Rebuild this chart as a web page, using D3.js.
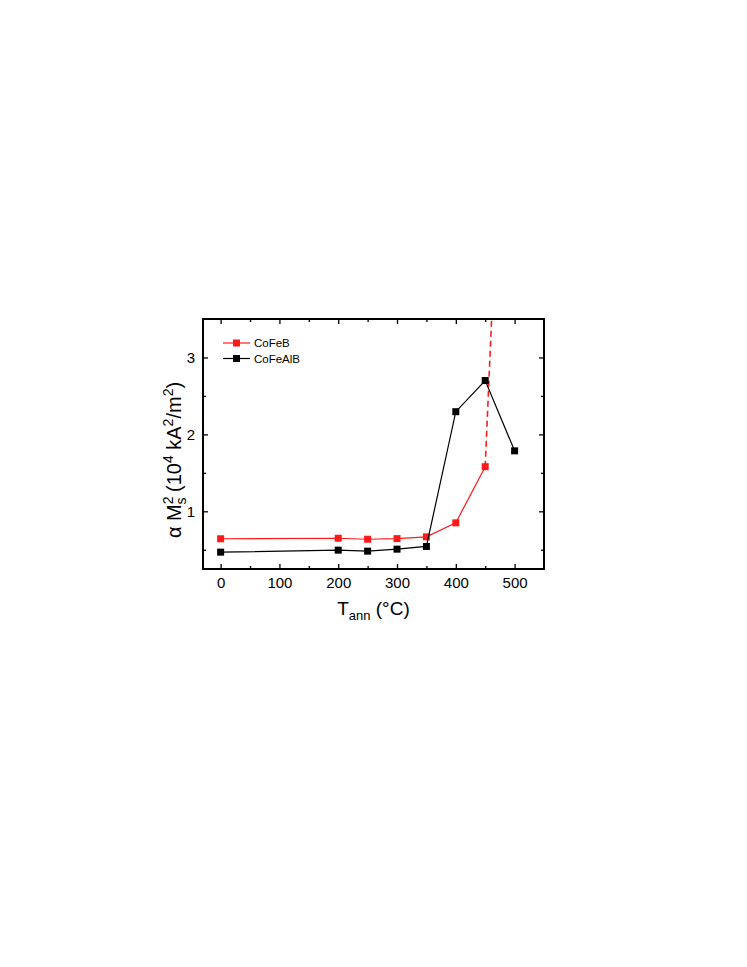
<!DOCTYPE html>
<html>
<head>
<meta charset="utf-8">
<script src="https://cdn.jsdelivr.net/npm/d3@7"></script>
<style>
  body { margin: 0; background: #fff; }
  svg { display: block; font-family: Arial, "Liberation Sans", sans-serif; }
  .axis path { display: none; }
  .axis line { stroke: #000; stroke-width: 1.3; }
  .axis text { font-size: 15px; fill: #000; }
</style>
</head>
<body>
<div id="chart"></div>
<script>
// data
var seriesNames = ["CoFeB", "CoFeAlB"];
var tempCoFeB = [0, 200, 250, 300, 350, 400, 450];
var valCoFeB = [0.643, 0.65, 0.637, 0.645, 0.668, 0.85, 1.58];
// dashed continuation of CoFeB past 450 °C (leaves the frame)
var tempCoFeBTail = [450, 462];
var valCoFeBTail = [1.58, 3.7];
var tempCoFeAlB = [0, 200, 250, 300, 350, 400, 450, 500];
var valCoFeAlB = [0.469, 0.495, 0.482, 0.508, 0.543, 2.295, 2.70, 1.786];
var xTicks = [0, 100, 200, 300, 400, 500];
var xMinor = [50, 150, 250, 350, 450];
var yTicks = [1, 2, 3];
var yMinor = [0.5, 1.5, 2.5];

// set the dimensions and margins of the graph
var margin = {top: 319, left: 203},
    width = 341,
    height = 250;

var svg = d3.select("#chart")
    .append("svg")
    .attr("width", 747)
    .attr("height", 967);

var g = svg.append("g")
    .attr("transform", "translate(" + margin.left + "," + margin.top + ")");

var x = d3.scaleLinear().domain([-30, 550]).range([0, width]);
var y = d3.scaleLinear().domain([0.25, 3.5]).range([height, 0]);

g.append("clipPath").attr("id", "clip")
  .append("rect").attr("width", width).attr("height", height);

// major + minor ticks, all pointing inward, mirrored on top/right
function addAxis(axisFn, scale, ticks, size, transform, labels) {
    var ax = axisFn(scale).tickValues(ticks).tickSizeInner(-size).tickSizeOuter(0);
    if (!labels) ax.tickFormat("");
    else ax.tickPadding(8).tickFormat(d3.format("d"));
    g.append("g").attr("class", "axis")
        .attr("transform", transform)
        .call(ax);
}
addAxis(d3.axisBottom, x, xTicks, 5, "translate(0," + height + ")", true);
addAxis(d3.axisBottom, x, xMinor, 3, "translate(0," + height + ")", false);
addAxis(d3.axisTop, x, xTicks, 5, "translate(0,0)", false);
addAxis(d3.axisTop, x, xMinor, 3, "translate(0,0)", false);
addAxis(d3.axisLeft, y, yTicks, 5, "translate(0,0)", true);
addAxis(d3.axisLeft, y, yMinor, 3, "translate(0,0)", false);
addAxis(d3.axisRight, y, yTicks, 5, "translate(" + width + ",0)", false);
addAxis(d3.axisRight, y, yMinor, 3, "translate(" + width + ",0)", false);

// frame
g.append("rect")
    .attr("width", width).attr("height", height)
    .attr("fill", "none").attr("stroke", "#000").attr("stroke-width", 2);

var line = d3.line()
    .x(function(d) { return x(d[0]); })
    .y(function(d) { return y(d[1]); });

var colors = {"CoFeB": "#ff1a1a", "CoFeAlB": "#000"};
var plot = g.append("g").attr("clip-path", "url(#clip)");

function drawSeries(ts, vs, color) {
    var pts = ts.map(function(t, i) { return [t, vs[i]]; });
    plot.append("path").datum(pts)
        .attr("d", line).attr("fill", "none")
        .attr("stroke", color).attr("stroke-width", 1.2);
    plot.selectAll(null).data(pts).enter().append("rect")
        .attr("x", function(d) { return x(d[0]) - 3.5; })
        .attr("y", function(d) { return y(d[1]) - 3.5; })
        .attr("width", 7).attr("height", 7)
        .attr("fill", color);
}

// dashed tail of CoFeB
plot.append("path")
    .datum(tempCoFeBTail.map(function(t, i) { return [t, valCoFeBTail[i]]; }))
    .attr("d", line).attr("fill", "none")
    .attr("stroke", colors.CoFeB).attr("stroke-width", 1.6)
    .attr("stroke-dasharray", "6,4");

drawSeries(tempCoFeB, valCoFeB, colors.CoFeB);
drawSeries(tempCoFeAlB, valCoFeAlB, colors.CoFeAlB);

// legend
var legend = g.append("g").attr("transform", "translate(20,24)");
seriesNames.forEach(function(name, i) {
    var row = legend.append("g").attr("transform", "translate(0," + (i * 15.5) + ")");
    row.append("line").attr("x1", 0).attr("x2", 27).attr("y1", 0).attr("y2", 0)
        .attr("stroke", colors[name]).attr("stroke-width", 1.2);
    row.append("rect").attr("x", 10).attr("y", -3.5).attr("width", 7).attr("height", 7)
        .attr("fill", colors[name]);
    row.append("text").attr("x", 31).attr("y", 4)
        .style("font-size", "11.5px").text(name);
});

// x axis title
var xt = svg.append("text")
    .attr("x", margin.left + width / 2)
    .attr("y", 615)
    .attr("text-anchor", "middle")
    .style("font-size", "19px");
xt.append("tspan").text("T");
xt.append("tspan").attr("dy", 5).style("font-size", "13px").text("ann");
xt.append("tspan").attr("dy", -5).text(" (°C)");

// y axis title
var yt = svg.append("text")
    .attr("transform", "translate(181,460) rotate(-90)")
    .attr("text-anchor", "middle")
    .style("font-size", "20px");
yt.append("tspan").text("α M");
yt.append("tspan").attr("dy", -8).style("font-size", "14px").text("2");
yt.append("tspan").attr("dx", -8).attr("dy", 13).style("font-size", "14px").text("s");
yt.append("tspan").attr("dy", -5).text(" (10");
yt.append("tspan").attr("dy", -8).style("font-size", "14px").text("4");
yt.append("tspan").attr("dy", 8).text(" kA");
yt.append("tspan").attr("dy", -8).style("font-size", "14px").text("2");
yt.append("tspan").attr("dy", 8).text("/m");
yt.append("tspan").attr("dy", -8).style("font-size", "14px").text("2");
yt.append("tspan").attr("dy", 8).text(")");
</script>
</body>
</html>
